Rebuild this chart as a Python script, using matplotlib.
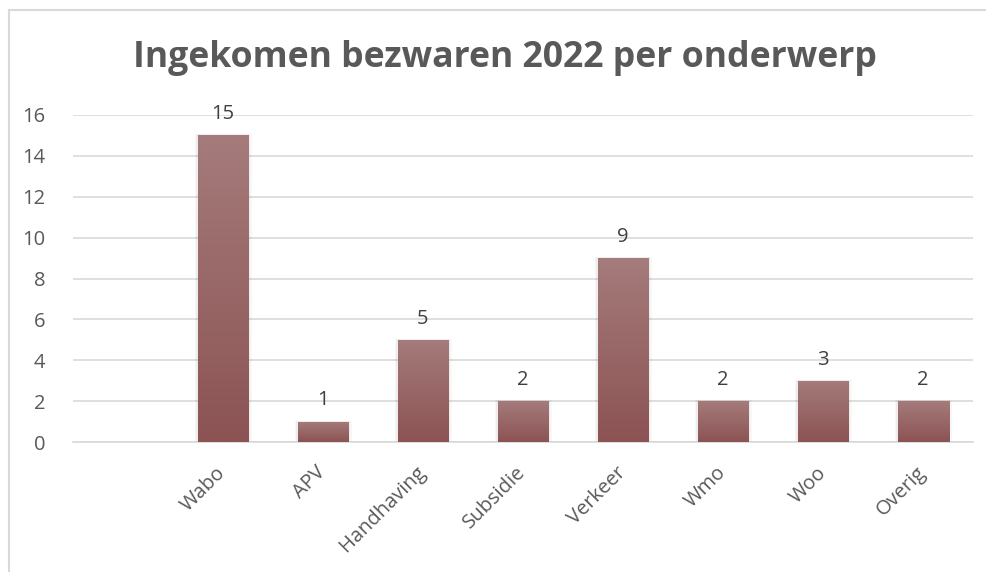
import numpy as np
import matplotlib.pyplot as plt
from matplotlib.lines import Line2D
from matplotlib.colors import LinearSegmentedColormap

categories = ["", "Wabo", "APV", "Handhaving", "Subsidie", "Verkeer", "Wmo", "Woo", "Overig"]
values = [0, 15, 1, 5, 2, 9, 2, 3, 2]
yticks = [0, 2, 4, 6, 8, 10, 12, 14, 16]

plt.rcParams['font.family'] = ['Open Sans', 'DejaVu Sans']
txt = '#595959'
grid = '#D9D9D9'

fig = plt.figure(figsize=(9.86, 5.72), dpi=100)
ax = fig.add_axes([73/986, 1 - 442/572, 900/986, (442 - 115)/572])

x = np.arange(len(categories))
# soft shadow around bars
for w, a in [(0.57, 0.03), (0.545, 0.04)]:
    ax.bar(x[1:], np.array(values[1:]) + 0.05, width=w, color='#000000', alpha=a, zorder=2)
bars = ax.bar(x[1:], values[1:], width=0.51, color='none', zorder=3)

grad = np.linspace(0, 1, 256).reshape(-1, 1)
cmap = LinearSegmentedColormap.from_list('g', ['#8C5353', '#A57B7B'])
for b in bars:
    x0, w, h = b.get_x(), b.get_width(), b.get_height()
    im = ax.imshow(grad, cmap=cmap, aspect='auto', origin='lower',
                   extent=[x0, x0 + w, 0, h], zorder=3)
    im.set_clip_path(b)
    ax.annotate(str(int(h)), (x0 + w / 2, h), xytext=(0, 8), textcoords='offset points',
                ha='center', va='bottom', fontsize=14.5, color='#404040', zorder=4)

ax.set_xlim(-0.5, len(categories) - 0.5)
ax.set_ylim(0, 16)
ax.set_yticks(yticks)
ax.set_yticklabels([str(t) for t in yticks], fontsize=14.5, color=txt)
ax.set_xticks(x)
ax.set_xticklabels(categories, rotation=45, ha='right', va='center', rotation_mode='anchor',
                   fontsize=14.5, color=txt)
ax.tick_params(axis='both', length=0)
ax.tick_params(axis='x', pad=20)
ax.tick_params(axis='y', pad=20)
ax.grid(axis='y', color=grid, lw=1.2, zorder=0)
ax.set_axisbelow(True)
for s in ['top', 'right', 'left']:
    ax.spines[s].set_visible(False)
ax.spines['bottom'].set_color(grid)
ax.spines['bottom'].set_linewidth(1.2)

fig.text(0.512, 1 - 58/572, "Ingekomen bezwaren 2022 per onderwerp", ha='center', va='center',
         fontsize=25.7, fontweight='bold', color=txt)

# chart border
fig.add_artist(Line2D([8.5/986, 8.5/986], [0, 1 - 10/572], color=grid, lw=1.5))
fig.add_artist(Line2D([8.5/986, 1], [1 - 10/572, 1 - 10/572], color=grid, lw=1.5))

fig.savefig('out.png', dpi=100)
